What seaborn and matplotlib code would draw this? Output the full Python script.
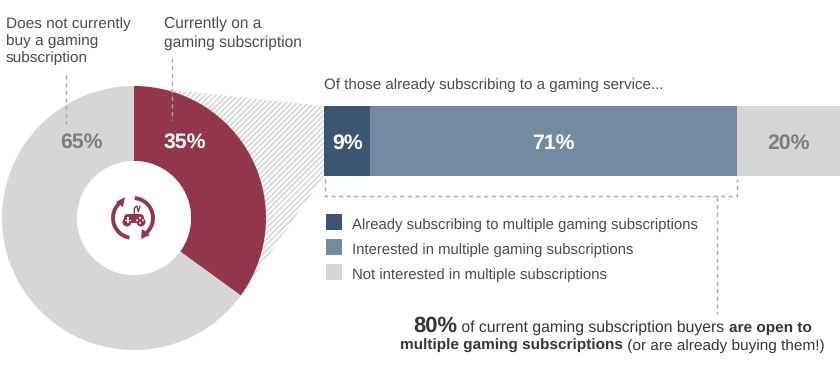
import matplotlib
matplotlib.use("Agg")
import matplotlib.pyplot as plt
import seaborn as sns
from matplotlib.patches import Arc, Circle, FancyBboxPatch, Polygon, Rectangle

# data
donut_labels = ["Currently on a\ngaming subscription", "Does not currently\nbuy a gaming\nsubscription"]
donut_values = [35, 65]
bar_values = [9, 71, 20]
bar_labels = ["Already subscribing to multiple gaming subscriptions",
              "Interested in multiple gaming subscriptions",
              "Not interested in multiple subscriptions"]
bar_title = "Of those already subscribing to a gaming service..."
headline = [[("80%", "bold", 15.8), (" of current gaming subscription buyers ", "normal", 11.3), ("are open to", "bold", 11.1)],
            [("multiple gaming subscriptions", "bold", 11.05), (" (or are already buying them!)", "normal", 11.1)]]

crimson = "#93364b"
navy = "#3c5572"
steel = "#738aa0"
grey = "#d6d6d6"
text_col = "#4f4a47"
dash_col = "#a9a9a9"
pct_grey = "#7d7d7d"
W, H = 840, 380

sns.set_theme(style="white")
plt.rcParams["font.family"] = ["Liberation Sans", "DejaVu Sans"]
plt.rcParams["hatch.color"] = "#d8d8d8"
plt.rcParams["hatch.linewidth"] = 1.3
plt.rcParams["text.hinting"] = "no_hinting"

fig = plt.figure(figsize=(W / 100, H / 100), dpi=100, facecolor="white")


def px_axes(x0, y0, x1, y1, z):
    a = fig.add_axes([x0 / W, 1 - y1 / H, (x1 - x0) / W, (y1 - y0) / H], zorder=z)
    a.patch.set_alpha(0)
    return a


# hatched funnel behind the donut
bg = px_axes(0, 0, W, H, 0)
bg.set_xlim(0, W)
bg.set_ylim(H, 0)
bg.axis("off")
bg.add_patch(Polygon([(134, 86), (324, 106), (324, 176), (241, 295), (134, 218)],
                     facecolor="white", edgecolor="#d8d8d8", hatch="//////", linewidth=0))

# donut
ax_pie = px_axes(2, 86, 266, 350, 1)
ax_pie.pie(donut_values, colors=[crimson, grey], startangle=90, counterclock=False,
           radius=1, wedgeprops={"width": 1 - 57 / 132, "linewidth": 0})
ax_pie.add_patch(Circle((0, 0), 57 / 132, facecolor="white", linewidth=0))
ax_pie.set_xlim(-1, 1)
ax_pie.set_ylim(-1, 1)

# stacked bar, longest first so the shorter ones sit on top
ax_bar = px_axes(324, 106, 840, 176, 1)
bar_colors = [navy, steel, grey]
for i in [2, 1, 0]:
    sns.barplot(x=[sum(bar_values[:i + 1])], y=["share"], color=bar_colors[i], width=1,
                saturation=1, linewidth=0, ax=ax_bar)
ax_bar.set_xlim(0, 100)
ax_bar.axis("off")
left = 0
for v, c in zip(bar_values, ["white", "white", pct_grey]):
    ax_bar.text(left + v / 2, 0.03, f"{v}%", color=c, fontsize=15.3, fontweight="bold", ha="center", va="center")
    left += v

# everything else goes on a pixel canvas
ax = px_axes(0, 0, W, H, 2)
ax.set_xlim(0, W)
ax.set_ylim(H, 0)
ax.axis("off")

ax.text(185, 142, f"{donut_values[0]}%", color="white", fontsize=15.3, fontweight="bold", ha="center", va="center")
ax.text(81, 142, f"{donut_values[1]}%", color=pct_grey, fontsize=15.3, fontweight="bold", ha="center", va="center")

ax.text(164, 33, donut_labels[0], color=text_col, fontsize=11.2, va="center", linespacing=1.3)
ax.text(6, 41, donut_labels[1], color=text_col, fontsize=11.1, va="center", linespacing=1.3)
ax.text(324, 85, bar_title, color=text_col, fontsize=10.9, va="center")

dash = dict(color=dash_col, linewidth=1, linestyle=(0, (3, 2.5)))
ax.plot([66, 66], [75, 124], **dash)
ax.plot([172, 172], [58, 120], **dash)
ax.plot([324.5, 324.5, 737, 737], [179, 196, 196, 179], **dash)
ax.plot([717, 717], [197, 314], **dash)

# legend
for lab, col, y in zip(bar_labels, bar_colors, [222, 247, 272]):
    ax.add_patch(Rectangle((326, y - 8), 16, 16, facecolor=col, linewidth=0))
    ax.text(352, y + 3, lab, color=text_col, fontsize=10.75, va="center")


# headline with mixed weights, one run after the other
def put_line(runs, x, y):
    r = fig.canvas.get_renderer()
    for s, weight, size in runs:
        t = ax.text(x, y, s, color="#3a3533", fontsize=size, fontweight=weight, va="baseline")
        t.set_text(s.replace(" ", "\u00a0"))
        x = t.get_window_extent(r).x1 * W / fig.bbox.width


put_line(headline[0], 413, 332)
put_line(headline[1], 400, 350)

# icon: circular arrows round a gamepad
# y axis is inverted here, so arc angles run clockwise on screen
cx, cy = 133, 218
ax.add_patch(Arc((cx, cy), 40, 40, theta1=-85, theta2=60, color=crimson, linewidth=2.8))
ax.add_patch(Arc((cx, cy), 40, 40, theta1=100, theta2=235, color=crimson, linewidth=2.8))
ax.add_patch(Polygon([(125, 197), (116, 202), (123, 207)], facecolor=crimson, linewidth=0))
ax.add_patch(Polygon([(141, 239), (142, 229), (150, 235)], facecolor=crimson, linewidth=0))
ax.add_patch(FancyBboxPatch((126, 216), 16, 5, boxstyle="round,pad=2,rounding_size=4", facecolor=crimson, linewidth=0))
ax.add_patch(Circle((127, 222), 4.5, facecolor=crimson, linewidth=0))
ax.add_patch(Circle((141, 222), 4.5, facecolor=crimson, linewidth=0))
ax.add_patch(Rectangle((125, 219.5), 6, 1.5, facecolor="white", linewidth=0))
ax.add_patch(Rectangle((127.2, 217.3), 1.5, 6, facecolor="white", linewidth=0))
for dx, dy in [(140, 217.8), (143, 220.3), (140, 222.8), (137, 220.3)]:
    ax.add_patch(Circle((dx, dy), 1, facecolor="white", linewidth=0))
ax.plot([134.3, 134.3, 136.7, 138.3, 140], [214, 208.3, 206, 211.7, 206], color=crimson, linewidth=1)

fig.savefig("out.png", dpi=100)
